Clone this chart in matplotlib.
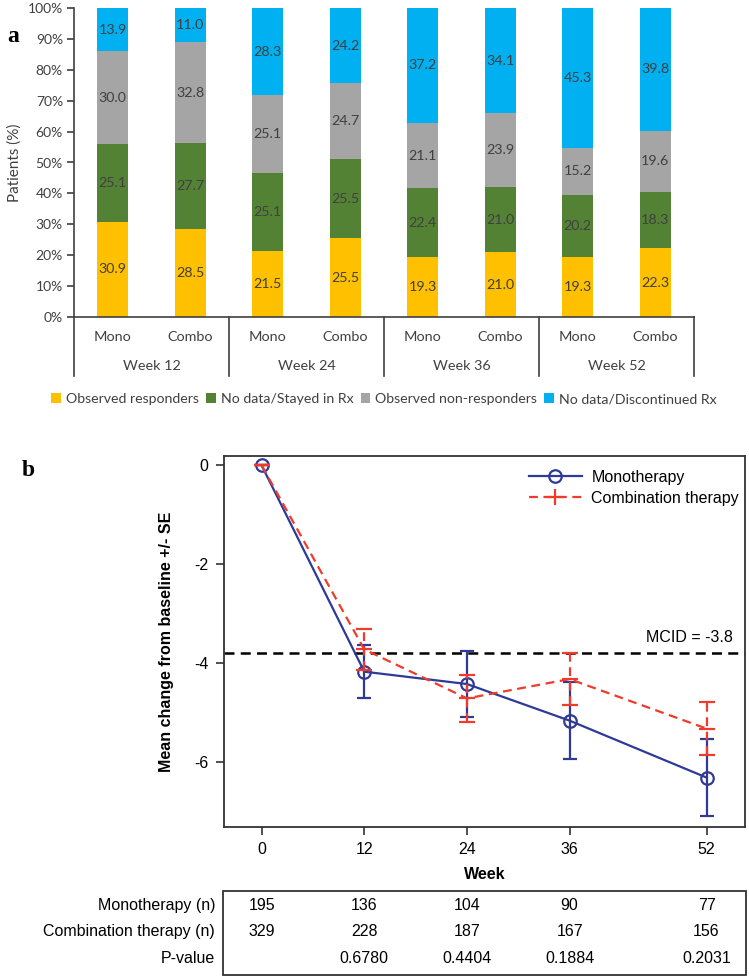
import numpy as np
import matplotlib
matplotlib.use("Agg")
import matplotlib.pyplot as plt
from matplotlib.patches import Patch, Rectangle
from matplotlib.lines import Line2D
import matplotlib.transforms as mtransforms

# ---- panel a data ----
groups = ["Week 12", "Week 24", "Week 36", "Week 52"]
arms = ["Mono", "Combo"]
responders = [30.9, 28.5, 21.5, 25.5, 19.3, 21.0, 19.3, 22.3]
stayed = [25.1, 27.7, 25.1, 25.5, 22.4, 21.0, 20.2, 18.3]
non_responders = [30.0, 32.8, 25.1, 24.7, 21.1, 23.9, 15.2, 19.6]
discontinued = [13.9, 11.0, 28.3, 24.2, 37.2, 34.1, 45.3, 39.8]
seg_names = ["Observed responders", "No data/Stayed in Rx",
             "Observed non-responders", "No data/Discontinued Rx"]
seg_colors = ["#FFC000", "#548235", "#A5A5A5", "#00B0F0"]

# ---- panel b data ----
weeks = [0, 12, 24, 36, 52]
mono_mean = [0.0, -4.17, -4.42, -5.16, -6.31]
mono_se = [0.0, 0.54, 0.67, 0.78, 0.77]
combo_mean = [0.0, -3.72, -4.71, -4.32, -5.32]
combo_se = [0.0, 0.41, 0.47, 0.52, 0.53]
mcid = -3.8
mono_n = ["195", "136", "104", "90", "77"]
combo_n = ["329", "228", "187", "167", "156"]
p_values = ["", "0.6780", "0.4404", "0.1884", "0.2031"]

W, H = 749, 980
fig = plt.figure(figsize=(W / 100, H / 100), dpi=100)

def fx(px):
    return px / W

def fy(py):
    return 1 - py / H

# ================= panel a =================
sans_a = ["Lato", "DejaVu Sans"]
ax1 = fig.add_axes([fx(74), fy(317), fx(694) - fx(74), fy(8) - fy(317)])
x = np.arange(len(responders)) + 0.5
bottom = np.zeros(len(x))
for vals, col in zip([responders, stayed, non_responders, discontinued], seg_colors):
    vals = np.array(vals)
    ax1.bar(x, vals, width=0.4, bottom=bottom, color=col, zorder=2)
    for xi, b, v in zip(x, bottom, vals):
        ax1.text(xi, b + v / 2, f"{v:.1f}", ha="center", va="center",
                 fontsize=10.3, color="#404040", family=sans_a)
    bottom += vals

ax1.set_xlim(0, 8)
ax1.set_ylim(0, 100)
ax1.set_yticks(np.arange(0, 101, 10))
ax1.set_yticklabels([f"{v}%" for v in range(0, 101, 10)], family=sans_a, fontsize=10)
ax1.set_xticks([])
for s in ["top", "right"]:
    ax1.spines[s].set_visible(False)
for s in ["left", "bottom"]:
    ax1.spines[s].set_color("#404040")
    ax1.spines[s].set_linewidth(1.2)
ax1.tick_params(axis="y", length=5, width=1.2, color="#404040", pad=3, labelcolor="#404040")
ax1.set_ylabel("Patients (%)", family=sans_a, fontsize=11, color="#404040", labelpad=4)

tr1 = mtransforms.blended_transform_factory(ax1.transData, ax1.transAxes)
for i, xi in enumerate(x):
    ax1.text(xi, -0.065, arms[i % 2], transform=tr1, ha="center", va="center",
             fontsize=10.4, color="#404040", family=sans_a)
for g, name in enumerate(groups):
    ax1.text(2 * g + 1, -0.16, name, transform=tr1, ha="center", va="center",
             fontsize=10.4, color="#404040", family=sans_a)
for b in range(0, 9, 2):
    ax1.plot([b, b], [0, -0.191], transform=tr1, color="#404040", lw=1.2, clip_on=False)

handles = [Patch(facecolor=c, edgecolor="none") for c in seg_colors]
fig.legend(handles, seg_names, loc="center", bbox_to_anchor=(fx(384), fy(399)),
           ncol=4, frameon=False, handlelength=0.7, handleheight=0.7,
           handletextpad=0.35, columnspacing=0.5, borderpad=0,
           prop={"family": sans_a, "size": 10.2}, labelcolor="#404040")

fig.text(fx(13), fy(37), "a", family="Liberation Serif", fontweight="bold",
         fontsize=17, ha="center", va="center")

# ================= panel b =================
sans_b = ["Liberation Sans", "DejaVu Sans"]
blue = "#2E3A96"
red = "#EE3B2B"
ax2 = fig.add_axes([fx(224), fy(827), fx(745) - fx(224), fy(456) - fy(827)])

ax2.axhline(mcid, color="black", lw=1.8, ls=(0, (4, 2.5)), zorder=1)
ax2.text(55.1, -3.48, f"MCID = {mcid}", ha="right", va="center",
         fontsize=11.5, family=sans_b)

eb_m = ax2.errorbar(weeks, mono_mean, yerr=mono_se, color=blue, lw=1.6,
                    marker="o", markersize=9, markerfacecolor="none",
                    markeredgewidth=1.6, capsize=5, capthick=1.6,
                    elinewidth=1.6, zorder=3)
eb_c = ax2.errorbar(weeks, combo_mean, yerr=combo_se, color=red, lw=1.6,
                    ls=(0, (4, 2.5)), marker="_", markersize=11,
                    markeredgewidth=1.6, capsize=5.5, capthick=1.6,
                    elinewidth=1.6, zorder=4)
for lc in eb_c[2]:
    lc.set_linestyle((0, (4, 2.5)))

ax2.set_xlim(-4.4, 56.5)
ax2.set_ylim(-7.31, 0.19)
ax2.set_xticks(weeks)
ax2.set_yticks([0, -2, -4, -6])
ax2.set_yticklabels(["0", "-2", "-4", "-6"])
for lab in ax2.get_xticklabels() + ax2.get_yticklabels():
    lab.set_family(sans_b)
    lab.set_fontsize(11.5)
for s in ax2.spines.values():
    s.set_color("#333333")
    s.set_linewidth(1.3)
ax2.tick_params(length=6, width=1.2, color="#333333", pad=5)
ax2.set_xlabel("Week", family=sans_b, fontsize=11.5, fontweight="bold", labelpad=7)
ax2.set_ylabel("Mean change from baseline +/- SE", family=sans_b, fontsize=11.5,
               fontweight="bold", labelpad=15)

leg_handles = [
    Line2D([], [], color=blue, lw=1.6, marker="o", markersize=9,
           markerfacecolor="none", markeredgewidth=1.6),
    Line2D([], [], color=red, lw=1.6, ls=(0, (4, 2.5)), marker="+",
           markersize=11, markeredgewidth=1.6),
]
fig.legend(leg_handles, ["Monotherapy", "Combination therapy"], loc="upper left",
           bbox_to_anchor=(fx(521), fy(462)), frameon=False, borderpad=0,
           handlelength=3.3, handletextpad=0.6, labelspacing=0.35,
           prop={"family": sans_b, "size": 11.5})

fig.text(fx(28), fy(470), "b", family="Liberation Serif", fontweight="bold",
         fontsize=17, ha="center", va="center")

# ---- numbers table under panel b ----
fig.add_artist(Rectangle((fx(223), fy(975)), fx(746) - fx(223), fy(891) - fy(975),
                         transform=fig.transFigure, fill=False,
                         edgecolor="#333333", lw=1.3))
tr2 = mtransforms.blended_transform_factory(ax2.transData, fig.transFigure)
row_labels = ["Monotherapy (n)", "Combination therapy (n)", "P-value"]
row_y = [905, 931, 958]
for lab, yy, vals in zip(row_labels, row_y, [mono_n, combo_n, p_values]):
    fig.text(fx(215), fy(yy), lab, ha="right", va="center", fontsize=11.5, family=sans_b)
    for wk, v in zip(weeks, vals):
        ax2.text(wk, fy(yy), v, transform=tr2, ha="center", va="center",
                 fontsize=11.5, family=sans_b)

fig.savefig("out.png", dpi=100)
